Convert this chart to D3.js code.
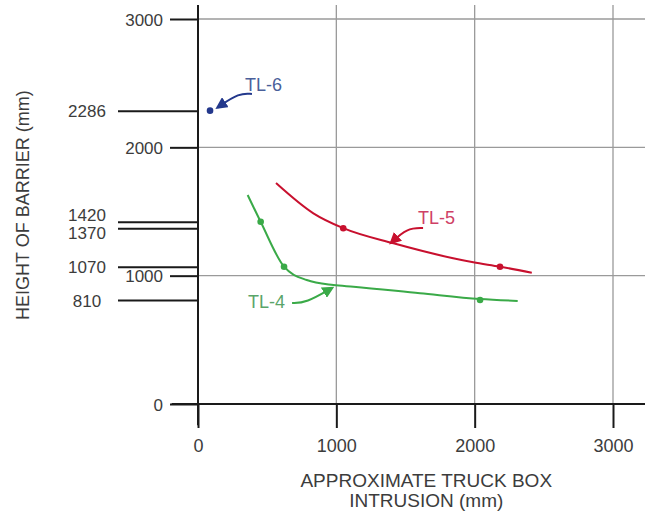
<!DOCTYPE html>
<html lang="en">
<head>
<meta charset="UTF-8">
<script src="https://d3js.org/d3.v7.min.js"></script>
<title>Height of barrier vs truck box intrusion</title>
<style>
  body { margin: 0; background: #fff; }
  text { font-family: "Liberation Sans", Arial, sans-serif; fill: #3c3c3c; }
</style>
</head>
<body>
<script>
// axis ticks
const xTicks = [0, 1000, 2000, 3000];
const yTicks = [0, 1000, 2000, 3000];
const yMarked = [2286, 1420, 1370, 1070, 810];

// curves (intrusion mm, height mm)
const tl5Line = [[564, 1722], [834, 1486], [1050, 1370], [1413, 1252], [1990, 1104], [2183, 1070], [2413, 1023]];
const tl5Pts = [[1050, 1370], [2183, 1070]];
const tl4Line = [[359, 1629], [453, 1420], [622, 1070], [786, 966], [979, 927], [1124, 914], [1605, 863], [2039, 818], [2311, 803]];
const tl4Pts = [[453, 1420], [622, 1070], [2039, 810]];
const tl6Pts = [[87, 2286]];

// labels and their arrows, in data units
const labels = [
  { text: "TL-6", at: [340, 2440], color: "#4a5f9a", stroke: "#23388c", arrow: [[390, 2416], [300, 2425], [140, 2310]] },
  { text: "TL-5", at: [1590, 1400], color: "#cf4065", stroke: "#c8102e", arrow: [[1627, 1371], [1510, 1371], [1395, 1255]] },
  { text: "TL-4", at: [361, 745], color: "#5aa569", stroke: "#3aaa48", arrow: [[680, 787], [780, 787], [970, 905]] }
];

const width = 645, height = 512;
const margin = { top: 19, right: 32, bottom: 108, left: 198 };

const x = d3.scaleLinear().domain([0, 3000]).range([margin.left, width - margin.right]);
const y = d3.scaleLinear().domain([0, 3000]).range([height - margin.bottom, margin.top]);

const svg = d3.select("body").append("svg")
  .attr("width", width).attr("height", height)
  .attr("viewBox", [0, 0, width, height]);

const defs = svg.append("defs");
labels.forEach((d, i) => {
  defs.append("marker")
    .attr("id", "ah" + i)
    .attr("viewBox", "0 0 10 10")
    .attr("refX", 8).attr("refY", 5)
    .attr("markerWidth", 6).attr("markerHeight", 6)
    .attr("orient", "auto")
    .append("path").attr("d", "M0,0L10,5L0,10z").attr("fill", d.stroke);
});

// gridlines
svg.append("g").selectAll("line").data(xTicks.slice(1)).join("line")
  .attr("x1", d => x(d)).attr("x2", d => x(d))
  .attr("y1", y(3110)).attr("y2", y(0))
  .attr("stroke", "#9a9a9a").attr("stroke-width", 1.3);
svg.append("g").selectAll("line").data(yTicks.slice(1)).join("line")
  .attr("x1", x(0)).attr("x2", width)
  .attr("y1", d => y(d)).attr("y2", d => y(d))
  .attr("stroke", "#9a9a9a").attr("stroke-width", 1.3);

// x axis
const xAxis = svg.append("g")
  .attr("transform", `translate(0,${y(0)})`)
  .call(d3.axisBottom(x).tickValues(xTicks).tickSize(24).tickPadding(11).tickFormat(d3.format("d")));
xAxis.select(".domain").remove();
xAxis.selectAll(".tick line").attr("stroke", "#1a1a1a").attr("stroke-width", 2);
xAxis.selectAll(".tick text").attr("font-size", 18).attr("fill", "#3c3c3c")
  .style("font-family", "Liberation Sans, Arial, sans-serif");

// y axis, main ticks
const yAxis = svg.append("g")
  .attr("transform", `translate(${x(0)},0)`)
  .call(d3.axisLeft(y).tickValues(yTicks).tickSize(28).tickPadding(7).tickFormat(d3.format("d")));
yAxis.select(".domain").remove();
yAxis.selectAll(".tick line").attr("stroke", "#1a1a1a").attr("stroke-width", 2);
yAxis.selectAll(".tick text").attr("font-size", 17).attr("fill", "#3c3c3c")
  .attr("dy", "0.36em").style("font-family", "Liberation Sans, Arial, sans-serif");

// y axis, marked barrier heights
const yMark = svg.append("g")
  .attr("transform", `translate(${x(0)},0)`)
  .call(d3.axisLeft(y).tickValues(yMarked).tickSize(80).tickPadding(11).tickFormat(d3.format("d")));
yMark.select(".domain").remove();
yMark.selectAll(".tick line").attr("stroke", "#1a1a1a").attr("stroke-width", 2);
yMark.selectAll(".tick text").attr("font-size", 17).attr("fill", "#3c3c3c")
  .attr("text-anchor", "middle").attr("x", -111)
  .attr("dy", d => d === 1420 ? "-0.05em" : d === 1370 ? "0.6em" : "0.36em")
  .style("font-family", "Liberation Sans, Arial, sans-serif");

// axis lines
svg.append("line")
  .attr("x1", x(-190)).attr("x2", width)
  .attr("y1", y(0)).attr("y2", y(0))
  .attr("stroke", "#1a1a1a").attr("stroke-width", 2);
svg.append("line")
  .attr("x1", x(0)).attr("x2", x(0))
  .attr("y1", y(3110)).attr("y2", y(-165))
  .attr("stroke", "#1a1a1a").attr("stroke-width", 2);

// curves
const line = d3.line().x(d => x(d[0])).y(d => y(d[1])).curve(d3.curveMonotoneX);
svg.append("path").datum(tl5Line).attr("d", line)
  .attr("fill", "none").attr("stroke", "#c8102e").attr("stroke-width", 2);
svg.append("path").datum(tl4Line).attr("d", line)
  .attr("fill", "none").attr("stroke", "#3aaa48").attr("stroke-width", 2);

const dots = (data, color) => svg.append("g").selectAll("circle").data(data).join("circle")
  .attr("cx", d => x(d[0])).attr("cy", d => y(d[1])).attr("r", 3.3).attr("fill", color);
dots(tl5Pts, "#c8102e");
dots(tl4Pts, "#3aaa48");
dots(tl6Pts, "#23388c");

// labels and arrows
const arrowLine = d3.line().x(d => x(d[0])).y(d => y(d[1])).curve(d3.curveBasis);
labels.forEach((d, i) => {
  svg.append("path").datum(d.arrow).attr("d", arrowLine)
    .attr("fill", "none").attr("stroke", d.stroke).attr("stroke-width", 2)
    .attr("marker-end", `url(#ah${i})`);
  svg.append("text")
    .attr("x", x(d.at[0])).attr("y", y(d.at[1]))
    .attr("font-size", 18).style("fill", d.color)
    .text(d.text);
});

// axis titles
const xTitle = svg.append("text")
  .attr("text-anchor", "middle").attr("font-size", 19)
  .attr("transform", `translate(${x(1650)},0)`);
xTitle.append("tspan").attr("x", 0).attr("y", 487).text("APPROXIMATE TRUCK BOX");
xTitle.append("tspan").attr("x", 0).attr("y", 507).text("INTRUSION (mm)");

svg.append("text")
  .attr("text-anchor", "middle").attr("font-size", 18)
  .attr("transform", `translate(28.5,${y(1550)}) rotate(-90)`)
  .text("HEIGHT OF BARRIER (mm)");
</script>
</body>
</html>
